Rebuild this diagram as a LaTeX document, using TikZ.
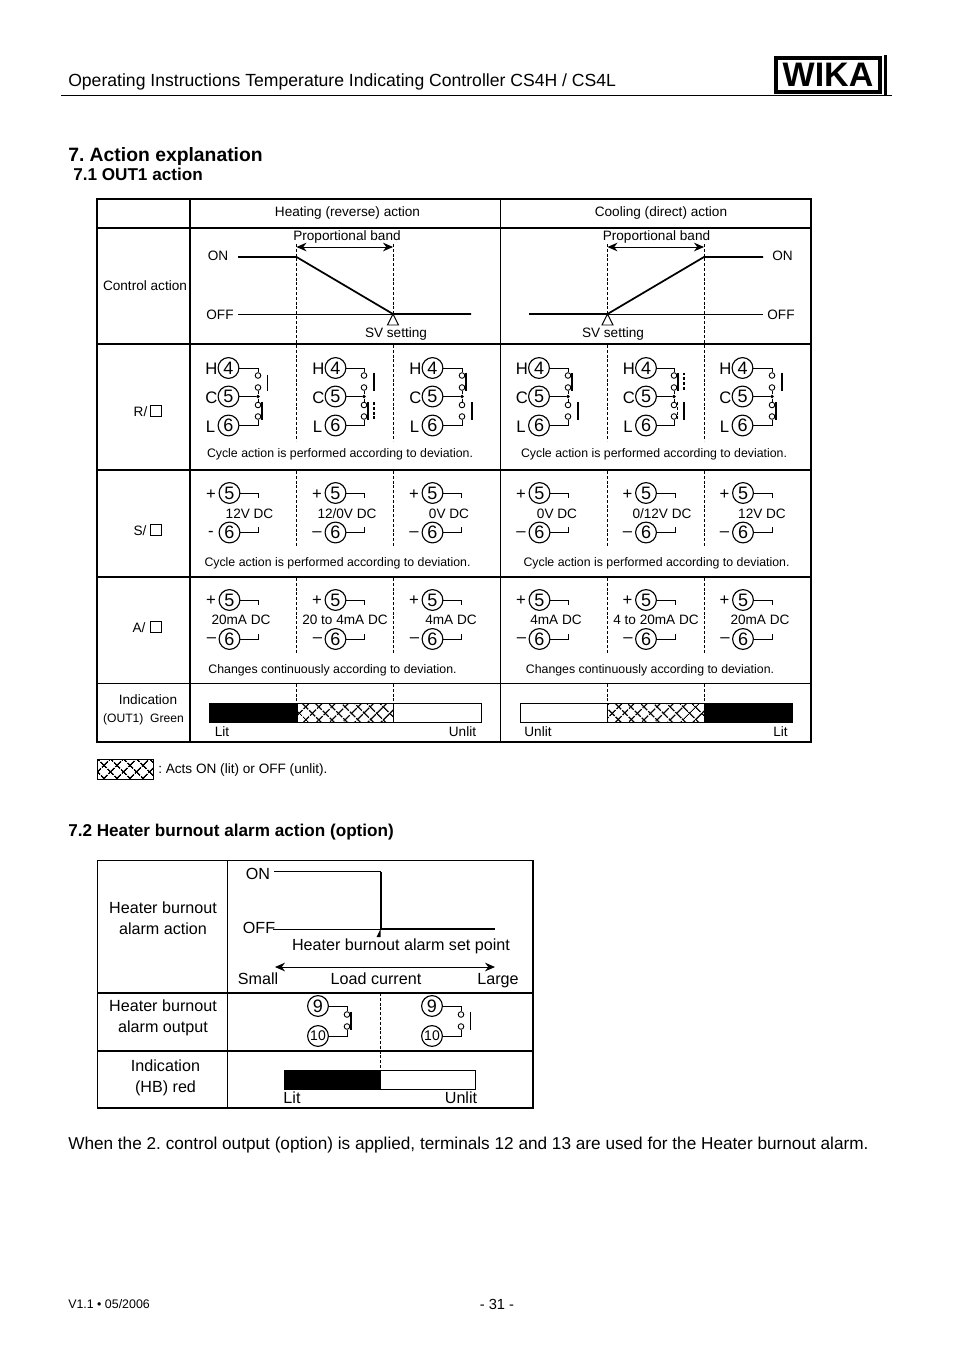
\documentclass[tikz,border=0pt]{standalone}
\usepackage{fontspec}
\setmainfont{Liberation Sans}
\usetikzlibrary{arrows.meta,calc,patterns.meta}
\frenchspacing

\begin{document}
\begin{tikzpicture}[
    x=0.75pt, y=-0.75pt,
    txt/.style={inner sep=0pt, align=center, font=\fontsize{10.2}{12}\selectfont},
    notetxt/.style={inner sep=0pt, align=center, font=\fontsize{9.25}{11}\selectfont},
    ltxt/.style={inner sep=0pt, align=center, font=\fontsize{12.1}{15.75}\selectfont},
    term/.style={inner sep=0pt, font=\fontsize{12.5}{14}\selectfont},
    head/.style={inner sep=0pt, anchor=west, font=\bfseries\fontsize{12.85}{15}\selectfont},
    num/.style={circle, draw=black, line width=0.85pt, inner sep=0pt, minimum size=15.6pt, font=\fontsize{13.5}{15}\selectfont},
    contact/.style={circle, draw=black, line width=0.65pt, fill=white, inner sep=0pt, minimum size=4.2pt},
    jdot/.style={circle, fill=black, inner sep=0pt, minimum size=2.8pt},
    rule/.style={line width=1.5pt},
    hair/.style={line width=0.8pt},
    wire/.style={line width=0.7pt},
    guide/.style={line width=0.6pt, dash pattern=on 2.2pt off 1.4pt},
    curve/.style={line width=1.3pt},
    band/.style={line width=0.7pt, {Stealth[length=7.5pt,width=6.5pt]}-{Stealth[length=7.5pt,width=6.5pt]}},
    openbar/.style={line width=1.3pt},
    closedbar/.style={line width=1.2pt},
    thinbar/.style={line width=0.7pt},
    ghostbar/.style={line width=1.3pt, dash pattern=on 2.2pt off 1.4pt},
    hatched/.style={preaction={pattern={Lines[angle=45,distance=6.9pt,line width=1.1pt]}},
                    pattern={Lines[angle=-45,distance=6.9pt,line width=1.1pt]}}
]
\useasboundingbox (0,0) rectangle (954,1350);

% page head
\node[inner sep=0pt, anchor=west, font=\fontsize{13.2}{16}\selectfont] (pagetitle) at (68,81.5) {Operating Instructions Temperature Indicating Controller CS4H / CS4L};
\draw[line width=0.8pt] (61,95.5) -- (892,95.5);
\draw[line width=2.8pt] (776,58) rectangle (880,92);
\draw[line width=2.6pt] (885.5,55) -- (885.5,95);
\node[inner sep=0pt, font=\bfseries\fontsize{25.5}{28}\selectfont] (logo) at (828,75) {WIKA};

\node[head, font=\bfseries\fontsize{14.5}{17}\selectfont] (h7) at (68,156.5) {7. Action explanation};
\node[head] (h71) at (73,174.5) {7.1 OUT1 action};

% grid of the first table
\draw[rule] (97,199) rectangle (811,742);
\draw[rule] (97,228) -- (811,228);
\draw[rule] (97,344) -- (811,344);
\draw[rule] (97,470) -- (811,470);
\draw[rule] (97,577) -- (811,577);
\draw[hair] (97,683.5) -- (811,683.5);
\draw[hair] (190,199) -- (190,742);
\draw[hair] (500.5,199) -- (500.5,742);

% dashed guides
\foreach \gx in {296.5,393,607.5,704}{
  \draw[guide] (\gx,345) -- (\gx,441);
  \draw[guide] (\gx,471) -- (\gx,547);
  \draw[guide] (\gx,578) -- (\gx,654);
  \draw[guide] (\gx,684) -- (\gx,703);
}
\draw[guide] (296.5,244) -- (296.5,344);
\draw[guide] (393,244) -- (393,315);
\draw[guide] (607.5,244) -- (607.5,315);
\draw[guide] (704,244) -- (704,344);

% row labels
\node[txt] (hheat) at (347.5,212.5) {Heating (reverse) action};
\node[txt] (hcool) at (661,212.5) {Cooling (direct) action};
\node[txt] (lctrl) at (145,285.5) {Control action};
\node[txt] (lr) at (140.5,411.5) {R/};
\node[txt] (ls) at (140,530.5) {S/};
\node[txt] (la) at (139,627.5) {A/};
\foreach \bid/\by in {lrb/410.5,lsb/530,lab/627}{
  \node[draw=black, line width=0.6pt, inner sep=0pt, minimum size=8.2pt] (\bid) at (156,\by) {};
}
\node[txt] (lind) at (148,700) {Indication};
\node[txt, font=\fontsize{9.1}{11}\selectfont] (lout) at (143.5,719) {(OUT1)~~Green};

% control action, heating
\node[txt] (onl) at (218,255.5) {ON};
\node[txt] (offl) at (220,314.5) {OFF};
\node[txt] (pbl) at (347,236.5) {Proportional band};
\node[txt] (svl) at (396,334) {SV setting};
\coordinate (hon0) at (238,257);
\coordinate (hon1) at (296.5,257);
\coordinate (hoff0) at (238,314);
\coordinate (hsv) at (393,314);
\coordinate (hoff1) at (471,314);
\draw[wire] (hoff0) -- (hsv);
\draw[curve] (hon0) -- (hon1) -- (hsv) -- (hoff1);
\draw[band] (hon1 |- 0,247) -- (hsv |- 0,247);
\draw[wire, fill=white] (hsv) -- ++(5.5,11) -- ++(-11,0) -- cycle;

% control action, cooling
\node[txt] (onr) at (782.5,255.5) {ON};
\node[txt] (offr) at (781,314.5) {OFF};
\node[txt] (pbr) at (656.5,236.5) {Proportional band};
\node[txt] (svr) at (613,334) {SV setting};
\coordinate (coff0) at (529,314);
\coordinate (csv) at (607.5,314);
\coordinate (coff1) at (763,314);
\coordinate (con0) at (704,257);
\coordinate (con1) at (763,257);
\draw[wire] (csv) -- (coff1);
\draw[curve] (coff0) -- (csv) -- (con0) -- (con1);
\draw[band] (csv |- 0,247) -- (con0 |- 0,247);
\draw[wire, fill=white] (csv) -- ++(5.5,11) -- ++(-11,0) -- cycle;

% relay row
\foreach \rid/\cx/\tx in {ra/228.5/258,rb/335.5/364,rc/432.5/462,rd/539/568,re/646/674,rf/742.5/772}{
  \node[term] (\rid-h) at (\cx-17,368.5) {H};
  \node[term] (\rid-c) at (\cx-17,397.5) {C};
  \node[term] (\rid-l) at (\cx-18,426.5) {L};
  \node[num] (\rid-4) at (\cx,368) {4};
  \node[num] (\rid-5) at (\cx,396.5) {5};
  \node[num] (\rid-6) at (\cx,425.5) {6};
  \node[contact] (\rid-k1) at (\tx,375.5) {};
  \node[contact] (\rid-k2) at (\tx,387.5) {};
  \node[contact] (\rid-k3) at (\tx,405) {};
  \node[contact] (\rid-k4) at (\tx,416.5) {};
  \node[jdot] (\rid-j) at (\tx,396.5) {};
  \draw[wire] (\rid-4) -| (\rid-k1);
  \draw[wire] (\rid-5) -- (\rid-j);
  \draw[wire] (\rid-k2) -- (\rid-j) -- (\rid-k3);
  \draw[wire] (\rid-6) -| (\rid-k4);
}
\foreach \kid/\ka/\kb in {ra/k3/k4,rb/k3/k4,rc/k1/k2,rd/k1/k2,re/k1/k2,rf/k3/k4}{
  \draw[closedbar] ($(\kid-\ka)+(3.8,-3)$) -- ($(\kid-\kb)+(3.8,3)$);
}
\foreach \kid/\ka/\kb in {rb/k1/k2,rc/k3/k4,rd/k3/k4,re/k3/k4,rf/k1/k2}{
  \draw[openbar] ($(\kid-\ka)+(9.8,-3)$) -- ($(\kid-\kb)+(9.8,3)$);
}
\draw[thinbar] ($(ra-k1)+(9,-1)$) -- ($(ra-k2)+(9,3)$);
\draw[ghostbar] ($(rb-k3)+(9.8,-3)$) -- ($(rb-k4)+(9.8,3)$);
\draw[ghostbar] ($(re-k1)+(9.8,-3)$) -- ($(re-k2)+(9.8,3)$);
\draw[guide] ($(re-k3)+(3.8,-3)$) -- ($(re-k4)+(3.8,3)$);
\node[notetxt] (rnote) at (340,454) {Cycle action is performed according to deviation.};
\node[notetxt] (rnotec) at (654,454) {Cycle action is performed according to deviation.};

% voltage row
\foreach \sid/\cx/\tx/\vx/\vtxt/\msign in {sa/229.5/258/249.5/{12V DC}/-,sb/335.5/364/347/{12/0V DC}/–,sc/432.5/461/449/{0V DC}/–,sd/539.5/568/557/{0V DC}/–,se/646/675/662/{0/12V DC}/–,sf/743/772/762/{12V DC}/–}{
  \node[term] (\sid-p) at (\cx-18.5,494.5) {+};
  \node[term] (\sid-m) at (\cx-18.5,534) {\msign};
  \node[num] (\sid-5) at (\cx,493) {5};
  \node[num] (\sid-6) at (\cx,532.5) {6};
  \node[txt] (\sid-v) at (\vx,513.5) {\vtxt};
  \coordinate (\sid-e5) at (\tx,498);
  \coordinate (\sid-e6) at (\tx,527);
  \draw[wire] (\sid-5) -| (\sid-e5);
  \draw[wire] (\sid-6) -| (\sid-e6);
}
\node[notetxt] (snote) at (337.5,563) {Cycle action is performed according to deviation.};
\node[notetxt] (snotec) at (656.5,563) {Cycle action is performed according to deviation.};

% current row
\foreach \aid/\cx/\tx/\vx/\vtxt in {aa/229.5/258/241/{20mA DC},ab/335.5/364/345/{20 to 4mA DC},ac/432.5/461/451/{4mA DC},ad/539.5/568/556/{4mA DC},ae/646/675/656/{4 to 20mA DC},af/743/772/760/{20mA DC}}{
  \node[term] (\aid-p) at (\cx-18.5,601) {+};
  \node[term] (\aid-m) at (\cx-18,640) {–};
  \node[num] (\aid-5) at (\cx,600) {5};
  \node[num] (\aid-6) at (\cx,639) {6};
  \node[txt] (\aid-v) at (\vx,619.5) {\vtxt};
  \coordinate (\aid-e5) at (\tx,605);
  \coordinate (\aid-e6) at (\tx,634);
  \draw[wire] (\aid-5) -| (\aid-e5);
  \draw[wire] (\aid-6) -| (\aid-e6);
}
\node[notetxt] (anote) at (332.5,670) {Changes continuously according to deviation.};
\node[notetxt] (anotec) at (650,670) {Changes continuously according to deviation.};

% indication row
\draw[wire] (209,703) rectangle (481.5,722);
\fill (209,703) rectangle (297,722);
\draw[wire, hatched] (297,703) rectangle (393,722);
\draw[wire] (520.5,703) rectangle (792,722);
\fill (704,703) rectangle (792,722);
\draw[wire, hatched] (607.5,703) rectangle (704,722);
\node[txt] (litl) at (222,731.5) {Lit};
\node[txt] (unlitl) at (462.5,731.5) {Unlit};
\node[txt] (unlitr) at (538,731.5) {Unlit};
\node[txt] (litr) at (780.5,731.5) {Lit};
\draw[wire, hatched] (97.5,759) rectangle (153,779);
\node[txt, anchor=west] (legend) at (158,769.5) {: Acts ON (lit) or OFF (unlit).};

% second table
\node[head] (h72) at (68,832) {7.2 Heater burnout alarm action (option)};
\draw[hair] (97.5,860.5) rectangle (533,1108);
\draw[hair] (227.5,860.5) -- (227.5,1108);
\draw[hair] (97.5,993) -- (533,993);
\draw[line width=1.1pt] (97.5,1051) -- (533,1051);
\draw[guide] (380.5,993) -- (380.5,1070);

\node[ltxt] (lhb) at (163,918.5) {Heater burnout\\alarm action};
\node[ltxt] (lhbo) at (163,1018) {Heater burnout\\alarm output};
\node[ltxt] (lhbi) at (165.5,1077.5) {Indication\\(HB) red};
\node[ltxt] (hon) at (258,874) {ON};
\node[ltxt] (hoff) at (259,928) {OFF};
\node[ltxt] (hset) at (401,946) {Heater burnout alarm set point};
\node[ltxt] (hsmall) at (258,979) {Small};
\node[ltxt] (hload) at (376,979) {Load current};
\node[ltxt] (hlarge) at (498,980.5) {Large};
\coordinate (hbon0) at (274,871.5);
\coordinate (hbtop) at (380.5,871.5);
\coordinate (hbset) at (380.5,929);
\coordinate (hboff0) at (273,929);
\coordinate (hboff1) at (495,929);
\draw[wire] (hboff0) -- (hbset);
\draw[line width=0.9pt] (hbset) -- (hboff1);
\draw[line width=1pt] (hbon0) -- (hbtop);
\draw[line width=1.5pt] (hbtop) -- (hbset);
\fill (hbset) -- ++(0,8) -- ++(-4,0) -- cycle;
\coordinate (hbl) at (275,967);
\coordinate (hbr) at (495,967);
\draw[band] (hbl) -- (hbr);

\foreach \hid/\cx/\tx in {hla/318/347,hlb/432/461}{
  \node[num] (\hid-9) at (\cx,1006) {9};
  \node[num, font=\fontsize{10.5}{12}\selectfont] (\hid-10) at (\cx,1036) {10};
  \node[contact] (\hid-k1) at (\tx,1014.5) {};
  \node[contact] (\hid-k2) at (\tx,1026.5) {};
  \draw[wire] (\hid-9) -| (\hid-k1);
  \draw[wire] (\hid-10) -| (\hid-k2);
}
\draw[closedbar] ($(hla-k1)+(3.8,-3)$) -- ($(hla-k2)+(3.8,3)$);
\draw[openbar] ($(hlb-k1)+(9.5,-3)$) -- ($(hlb-k2)+(9.5,3)$);

\draw[wire] (284.5,1070.5) rectangle (475.5,1089);
\fill (284.5,1070.5) rectangle (381,1089);
\node[ltxt] (hlit) at (292,1098) {Lit};
\node[ltxt] (hunlit) at (461,1098) {Unlit};

% foot of the page
\node[inner sep=0pt, anchor=west, font=\fontsize{12.9}{15}\selectfont] (note) at (68,1145) {When the 2. control output (option) is applied, terminals 12 and 13 are used for the Heater burnout alarm.};
\node[inner sep=0pt, anchor=west, font=\fontsize{9.3}{11}\selectfont] (ver) at (68,1304.5) {V1.1 • 05/2006};
\node[inner sep=0pt, font=\fontsize{11}{13}\selectfont] (page) at (497,1304.5) {- 31 -};
\end{tikzpicture}
\end{document}
